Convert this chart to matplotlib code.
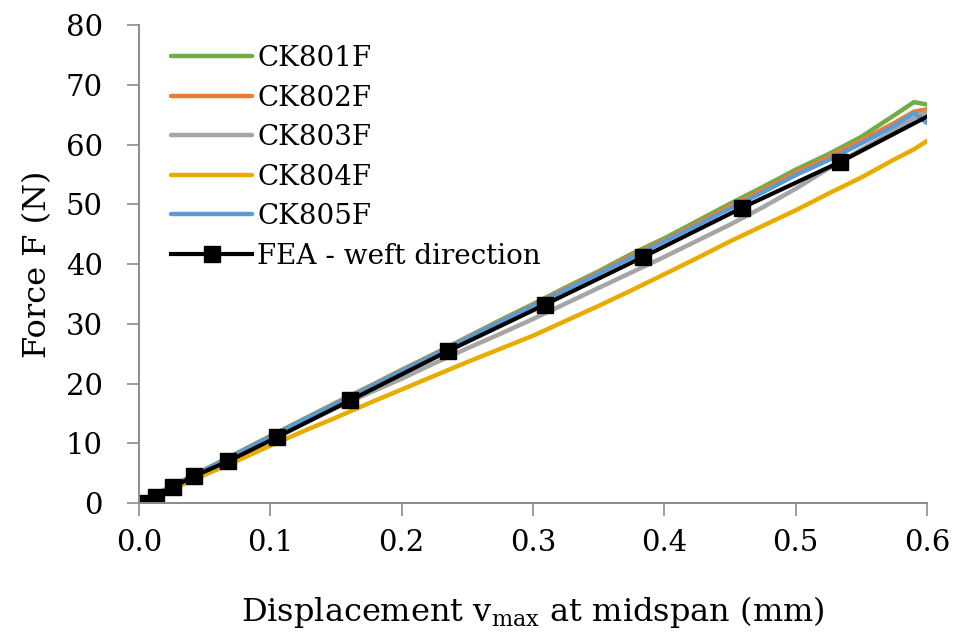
import matplotlib
matplotlib.use("Agg")
import matplotlib.pyplot as plt

plt.rcParams["font.family"] = ["DejaVu Serif"]

# displacement grid for the test curves (mm)
disp = [0.0, 0.025, 0.05, 0.075, 0.1, 0.125, 0.15, 0.175, 0.2, 0.225, 0.25,
        0.275, 0.3, 0.325, 0.35, 0.375, 0.4, 0.425, 0.45, 0.475, 0.5, 0.525,
        0.55, 0.575, 0.59, 0.6]

# measured force (N)
ck801 = [0.0, 2.8, 5.6, 8.4, 11.2, 14.0, 16.8, 19.5, 22.3, 25.0, 27.8,
         30.6, 33.3, 36.1, 38.8, 41.7, 44.3, 47.2, 50.1, 52.9, 55.8, 58.4,
         61.3, 64.9, 67.1, 66.7]
ck802 = [0.0, 2.8, 5.5, 8.3, 11.2, 13.9, 16.7, 19.4, 22.2, 24.9, 27.7,
         30.4, 33.1, 35.9, 38.6, 41.4, 44.0, 46.8, 49.7, 52.4, 55.3, 57.9,
         60.7, 63.6, 65.5, 65.9]
ck803 = [0.0, 2.7, 5.3, 8.0, 10.7, 13.3, 15.9, 18.4, 20.8, 23.4, 25.9,
         28.3, 30.8, 33.4, 36.0, 38.6, 41.2, 43.9, 46.6, 49.5, 52.6, 56.0,
         59.2, 62.3, 64.4, 65.5]
ck804 = [0.0, 2.3, 4.7, 7.1, 9.6, 12.0, 14.3, 16.7, 19.0, 21.3, 23.6,
         25.8, 28.0, 30.5, 33.0, 35.6, 38.3, 41.0, 43.8, 46.4, 49.0, 51.8,
         54.5, 57.5, 59.2, 60.6]
ck805 = [0.0, 2.8, 5.5, 8.3, 11.1, 13.9, 16.6, 19.3, 22.1, 24.8, 27.6,
         30.3, 33.0, 35.7, 38.4, 41.1, 43.8, 46.5, 49.3, 52.0, 54.9, 57.4,
         60.2, 63.1, 65.3, 63.6]

# finite element prediction, weft direction
fea_x = [0.0, 0.013, 0.026, 0.042, 0.068, 0.105, 0.161, 0.235, 0.309,
         0.384, 0.459, 0.534, 0.608]
fea_y = [0.0, 1.0, 2.7, 4.5, 7.0, 11.0, 17.2, 25.4, 33.2, 41.2, 49.4,
         57.1, 65.6]

tests = [("CK801F", ck801, "#70AD47"),
         ("CK802F", ck802, "#ED7D31"),
         ("CK803F", ck803, "#A5A5A5"),
         ("CK804F", ck804, "#E8AC00"),
         ("CK805F", ck805, "#5B9BD5")]

fig = plt.figure(figsize=(9.57, 6.39), dpi=100)
ax = fig.add_axes([0.1452, 0.2128, 0.8235, 0.748])

for name, f, col in tests:
    ax.plot(disp, f, color=col, lw=3.2, label=name, solid_capstyle="round")
ax.plot(fea_x, fea_y, color="black", lw=3.0, marker="s", markersize=11.5,
        label="FEA - weft direction")

ax.set_xlim(0, 0.6)
ax.set_ylim(0, 80)
ax.set_xticks([0, 0.1, 0.2, 0.3, 0.4, 0.5, 0.6])
ax.set_xticklabels(["0.0", "0.1", "0.2", "0.3", "0.4", "0.5", "0.6"])
ax.set_yticks(range(0, 81, 10))

for s in ["top", "right"]:
    ax.spines[s].set_visible(False)
for s in ["left", "bottom"]:
    ax.spines[s].set_color("#8C8C8C")
    ax.spines[s].set_linewidth(1.4)
ax.tick_params(axis="both", direction="out", length=9, width=1.2,
               color="#8C8C8C", labelsize=21)
ax.tick_params(axis="y", pad=17)
ax.tick_params(axis="x", pad=10)

ax.set_xlabel("Displacement v$_{\\mathregular{max}}$ at midspan (mm)",
              fontsize=23, labelpad=26)
ax.set_ylabel("Force F (N)", fontsize=23, labelpad=9)

ax.legend(loc="upper left", bbox_to_anchor=(0.02, 0.993), frameon=False,
          fontsize=20, handlelength=2.9, handletextpad=0.2, labelspacing=0.45,
          borderaxespad=0.2)

fig.savefig("out.png", dpi=100)
